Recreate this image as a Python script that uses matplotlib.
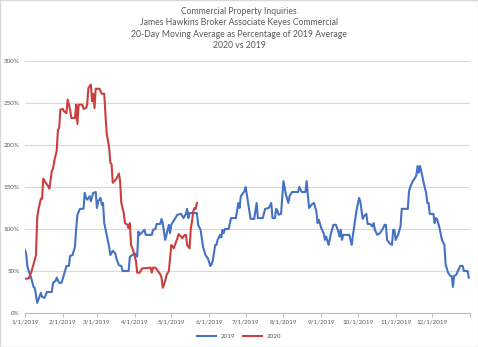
import numpy as np
import pandas as pd
import matplotlib
matplotlib.use("Agg")
import matplotlib.pyplot as plt
import matplotlib.dates as mdates
from matplotlib.patches import Rectangle
from matplotlib.ticker import FuncFormatter
from matplotlib import rcParams
rcParams.update({"font.family": ["Lato", "DejaVu Sans"], "font.size": 5})

# day offset from 1/1/2019 and percentage of 2019 average
days_2019 = [0, 1, 2, 4, 5, 7, 8, 10, 11, 13, 14, 16, 18, 22, 23, 25, 26, 28, 30, 32,
             34, 36, 37, 39, 41, 42, 43, 45, 48, 49, 50, 51, 53, 54, 56, 58, 59, 60, 62, 63,
             64, 65, 67, 69, 70, 72, 74, 75, 77, 79, 80, 85, 86, 88, 90, 92, 93, 94, 98, 99,
             104, 105, 107, 108, 111, 112, 113, 115, 116, 118, 119, 120, 122, 125, 128, 130, 132, 133, 134, 135,
             141, 142, 144, 146, 148, 150, 152, 153, 154, 156, 157, 158, 160, 161, 162, 163, 164, 167, 169, 173,
             175, 176, 177, 180, 181, 183, 185, 188, 190, 191, 195, 197, 200, 202, 203, 205, 206, 207, 208, 210,
             211, 212, 214, 216, 217, 219, 224, 225, 227, 230, 231, 232, 233, 235, 237, 239, 240, 241, 243, 245,
             246, 247, 249, 251, 253, 255, 257, 258, 259, 260, 261, 266, 268, 269, 271, 272, 274, 275, 277, 278,
             280, 281, 283, 285, 286, 287, 289, 291, 293, 295, 296, 297, 299, 301, 302, 303, 304, 306, 308, 309,
             314, 315, 316, 318, 320, 321, 322, 323, 324, 325, 327, 329, 330, 331, 332, 335, 336, 337, 338, 340,
             342, 344, 345, 347, 349, 350, 351, 352, 354, 355, 357, 359, 360, 363, 364]
pct_2019 = [75, 70, 55, 46, 42, 31, 30, 12, 16, 24, 19, 18, 25, 25, 36, 38, 42, 36, 36, 46,
            56, 56, 68, 69, 79, 101, 117, 124, 124, 143, 137, 135, 139, 133, 143, 144, 125, 133, 137, 129,
            131, 107, 93, 79, 69, 74, 71, 65, 57, 56, 50, 50, 67, 69, 71, 67, 97, 93, 99, 93,
            93, 99, 100, 106, 106, 112, 107, 87, 93, 105, 95, 105, 110, 117, 118, 113, 118, 124, 113, 119,
            119, 105, 99, 79, 69, 65, 56, 58, 62, 81, 81, 87, 93, 90, 99, 95, 100, 100, 113, 113,
            131, 125, 139, 145, 150, 131, 112, 112, 131, 113, 113, 124, 125, 131, 113, 113, 124, 122, 117, 118,
            137, 157, 141, 131, 139, 144, 144, 150, 144, 144, 157, 141, 125, 129, 131, 121, 107, 111, 101, 95,
            87, 91, 81, 95, 105, 105, 97, 91, 99, 87, 93, 93, 81, 93, 113, 123, 137, 133, 112, 115,
            118, 106, 106, 103, 107, 99, 93, 95, 99, 105, 105, 87, 83, 81, 99, 99, 87, 93, 103, 124,
            124, 145, 150, 157, 161, 164, 175, 167, 175, 169, 155, 143, 131, 131, 118, 118, 107, 113, 112, 101,
            87, 81, 58, 48, 44, 44, 31, 44, 46, 50, 56, 56, 50, 50, 42]

days_2020 = [0, 3, 5, 7, 9, 10, 11, 13, 14, 15, 17, 19, 20, 22, 23, 24, 26, 27, 28, 29,
             31, 32, 34, 35, 37, 38, 41, 42, 43, 44, 47, 48, 50, 51, 52, 54, 55, 56, 57, 58,
             61, 63, 65, 66, 67, 69, 70, 71, 72, 74, 75, 77, 78, 79, 81, 82, 84, 85, 86, 87,
             89, 91, 92, 94, 96, 103, 104, 105, 107, 109, 111, 112, 113, 115, 116, 118, 120, 121, 122, 124,
             125, 126, 128, 129, 131, 132, 133, 135, 136, 137, 138, 139, 140, 141]
pct_2020 = [41, 41, 48, 58, 69, 113, 123, 136, 136, 160, 155, 151, 148, 169, 172, 181, 193, 218, 220, 242,
            243, 240, 238, 254, 242, 232, 232, 248, 225, 248, 248, 243, 244, 248, 268, 272, 252, 261, 244, 267,
            267, 261, 261, 236, 214, 197, 179, 177, 155, 158, 160, 166, 157, 131, 119, 107, 105, 101, 107, 81,
            73, 62, 48, 48, 53, 54, 48, 54, 54, 50, 46, 42, 30, 38, 45, 50, 81, 79, 77, 85,
            89, 94, 91, 89, 93, 93, 81, 77, 101, 109, 121, 125, 124, 131]

title_lines = ["Commercial Property Inquiries",
               "James Hawkins Broker Associate Keyes Commercial",
               "20-Day Moving Average as Percentage of 2019 Average",
               "2020 vs 2019"]

start = pd.Timestamp("2019-01-01")
x_2019 = start + pd.to_timedelta(days_2019, unit="D")
x_2020 = start + pd.to_timedelta(days_2020, unit="D")

grey = "#595959"
fig = plt.figure(figsize=(4.78, 3.47), dpi=100)
ax = fig.add_axes([25 / 478, 1 - 313 / 347, 445 / 478, 252 / 347])

ax.plot(x_2019, np.array(pct_2019) / 100, color="#4472C4", lw=1.5, label="2019")
ax.plot(x_2020, np.array(pct_2020) / 100, color="#C9403F", lw=1.5, label="2020")

ax.set_ylim(0, 3.0)
ax.set_yticks(np.arange(0, 3.01, 0.5))
ax.yaxis.set_major_formatter(FuncFormatter(lambda v, p: f"{v:.0%}"))
ax.set_xlim(start, pd.Timestamp("2020-01-01"))
ax.xaxis.set_major_locator(mdates.MonthLocator())
ax.xaxis.set_major_formatter(FuncFormatter(
    lambda v, p: "" if mdates.num2date(v).year == 2020 else
    f"{mdates.num2date(v).month}/1/2019"))

ax.grid(axis="y", color="#d9d9d9", lw=0.8)
ax.set_axisbelow(True)
for s in ["top", "right", "left"]:
    ax.spines[s].set_visible(False)
ax.spines["bottom"].set_color("#bfbfbf")
ax.tick_params(axis="y", length=0, pad=4, labelcolor=grey, labelsize=4.5)
ax.tick_params(axis="x", length=3, color="#bfbfbf", pad=2, labelcolor=grey, labelsize=4.5)

fig.text(0.5, 1 - 7 / 347, "\n".join(title_lines), ha="center", va="top",
         fontsize=6.2, color=grey, linespacing=1.35)
fig.legend(loc="center", bbox_to_anchor=(0.5, 1 - 336 / 347), ncol=2, frameon=False,
           fontsize=4.5, labelcolor=grey, handlelength=3, columnspacing=1.2)

fig.patches.append(Rectangle((0, 0), 1, 1, transform=fig.transFigure, fill=False,
                             edgecolor="#d9d9d9", lw=1))
fig.savefig("out.png", dpi=100)
plt.close()
